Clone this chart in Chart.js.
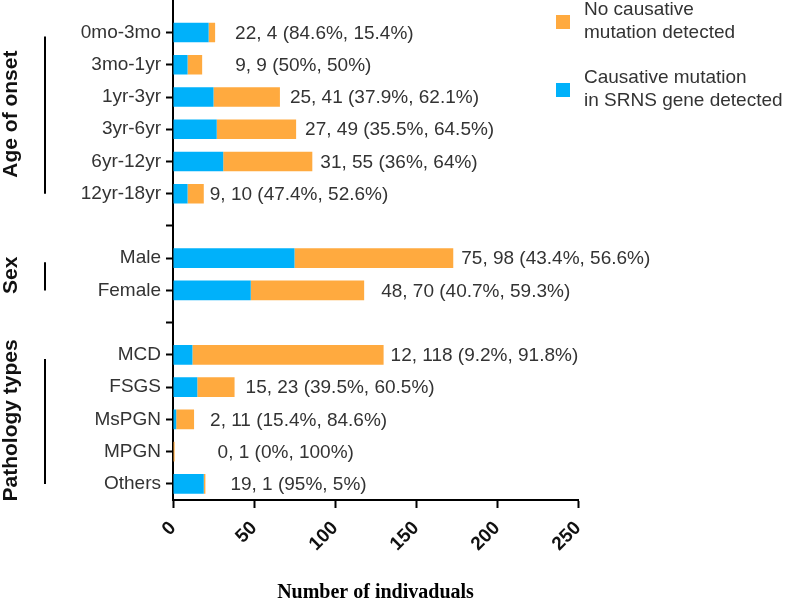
<!DOCTYPE html>
<html>
<head>
<meta charset="utf-8">
<script src="https://cdn.jsdelivr.net/npm/chart.js@4.4.1/dist/chart.umd.min.js"></script>
<style>
  html, body { margin: 0; padding: 0; background: #fff; }
  #wrap { width: 789px; height: 599px; }
</style>
</head>
<body>
<div id="wrap"><canvas id="chart" width="789" height="599"></canvas></div>
<script>
// rows of the chart, blank strings are spacer rows between groups
const categories = ["0mo-3mo", "3mo-1yr", "1yr-3yr", "3yr-6yr", "6yr-12yr", "12yr-18yr", "",
  "Male", "Female", "",
  "MCD", "FSGS", "MsPGN", "MPGN", "Others"];
const mutationDetected = [22, 9, 25, 27, 31, 9, null, 75, 48, null, 12, 15, 2, 0, 19];
const noMutation = [4, 9, 41, 49, 55, 10, null, 98, 70, null, 118, 23, 11, 1, 1];
const pctDetected = ["84.6%", "50%", "37.9%", "35.5%", "36%", "47.4%", null, "43.4%", "40.7%", null, "9.2%", "39.5%", "15.4%", "0%", "95%"];
const pctNone = ["15.4%", "50%", "62.1%", "64.5%", "64%", "52.6%", null, "56.6%", "59.3%", null, "91.8%", "60.5%", "84.6%", "100%", "5%"];
const groupNames = ["Age of onset", "Sex", "Pathology types"];
const groupFirst = [0, 7, 10];
const groupLast = [5, 8, 14];
const xMax = 250;
const xStep = 50;

const BLUE = "#00B1FA";
const ORANGE = "#FFAA3F";
const TEXT = "#333";
const SANS = "'Liberation Sans', Arial, sans-serif";

// gap between bar end and its annotation, per row (px)
const labelGap = [20, 33, 10, 9, 8, 6, 0, 8, 17, 0, 7, 11, 16, 43, 25];

const annotations = {
  id: "annotations",
  afterDatasetsDraw(chart) {
    const ctx = chart.ctx;
    const xs = chart.scales.x, ys = chart.scales.y;
    ctx.save();
    ctx.font = "19px " + SANS;
    ctx.fillStyle = TEXT;
    ctx.textBaseline = "middle";
    ctx.textAlign = "left";
    categories.forEach((c, i) => {
      if (mutationDetected[i] === null) return;
      const total = mutationDetected[i] + noMutation[i];
      const x = xs.getPixelForValue(total) + labelGap[i];
      const y = ys.getPixelForValue(i);
      const txt = mutationDetected[i] + ", " + noMutation[i] + " (" + pctDetected[i] + ", " + pctNone[i] + ")";
      ctx.fillText(txt, x, y + 1);
    });
    ctx.restore();
  },
};

const groupsAndLegend = {
  id: "groupsAndLegend",
  afterDraw(chart) {
    const ctx = chart.ctx;
    const ys = chart.scales.y;
    const area = chart.chartArea;
    ctx.save();

    // y axis line runs a bit above the plot
    ctx.strokeStyle = "#000";
    ctx.lineWidth = 2;
    ctx.beginPath();
    ctx.moveTo(area.left, 0);
    ctx.lineTo(area.left, area.top);
    ctx.stroke();

    // group labels with their bracket lines
    groupNames.forEach((name, g) => {
      const y1 = ys.getPixelForValue(groupFirst[g]);
      const y2 = ys.getPixelForValue(groupLast[g]);
      ctx.beginPath();
      ctx.moveTo(45, y1 + 4);
      ctx.lineTo(45, y2);
      ctx.stroke();

      ctx.save();
      ctx.translate(11, (y1 + y2) / 2 + 1);
      ctx.rotate(-Math.PI / 2);
      ctx.font = "bold 21px " + SANS;
      ctx.fillStyle = "#111";
      ctx.textAlign = "center";
      ctx.textBaseline = "middle";
      ctx.fillText(name, 0, 0);
      ctx.restore();
    });

    // legend, orange entry first
    const entries = [
      { color: ORANGE, lines: ["No causative", "mutation detected"], top: 10 },
      { color: BLUE, lines: ["Causative mutation", "in SRNS gene detected"], top: 78 },
    ];
    ctx.font = "19px " + SANS;
    ctx.textAlign = "left";
    ctx.textBaseline = "middle";
    entries.forEach((e) => {
      ctx.fillStyle = e.color;
      ctx.fillRect(556, e.top + 5, 14, 14);
      ctx.fillStyle = TEXT;
      e.lines.forEach((l, k) => ctx.fillText(l, 584, e.top + k * 23));
    });
    ctx.restore();
  },
};

new Chart(document.getElementById("chart"), {
  type: "bar",
  data: {
    labels: categories,
    datasets: [
      {
        label: "Causative mutation in SRNS gene detected",
        data: mutationDetected,
        backgroundColor: BLUE,
        borderWidth: 0,
        barPercentage: 0.61,
        categoryPercentage: 1,
      },
      {
        label: "No causative mutation detected",
        data: noMutation,
        backgroundColor: ORANGE,
        borderWidth: 0,
        barPercentage: 0.61,
        categoryPercentage: 1,
      },
    ],
  },
  options: {
    indexAxis: "y",
    responsive: false,
    animation: false,
    layout: { padding: { left: 0, right: 211, top: 7, bottom: 0 } },
    plugins: {
      legend: { display: false },
      tooltip: { enabled: false },
    },
    scales: {
      x: {
        type: "linear",
        stacked: true,
        min: 0,
        max: xMax,
        afterFit(scale) {
          scale.height = 99;
        },
        ticks: {
          stepSize: xStep,
          minRotation: 45,
          maxRotation: 45,
          padding: 9,
          color: "#111",
          font: { family: SANS, size: 19, weight: "bold" },
        },
        grid: {
          drawOnChartArea: false,
          tickLength: 8,
          tickWidth: 2,
          tickColor: "#000",
        },
        border: { color: "#000", width: 2 },
        title: {
          display: true,
          text: "Number of indivaduals",
          color: "#000",
          font: { family: "'Liberation Serif', 'Times New Roman', serif", size: 20, weight: "bold", lineHeight: 1 },
          padding: { top: 0, bottom: -4 },
        },
      },
      y: {
        stacked: true,
        afterFit(scale) {
          scale.width = 173;
        },
        ticks: {
          color: TEXT,
          padding: 5,
          autoSkip: false,
          font: { family: SANS, size: 19 },
        },
        grid: {
          offset: false,
          drawOnChartArea: false,
          tickLength: 7,
          tickWidth: 2,
          tickColor: "#000",
        },
        border: { color: "#000", width: 2 },
      },
    },
  },
  plugins: [annotations, groupsAndLegend],
});
</script>
</body>
</html>
